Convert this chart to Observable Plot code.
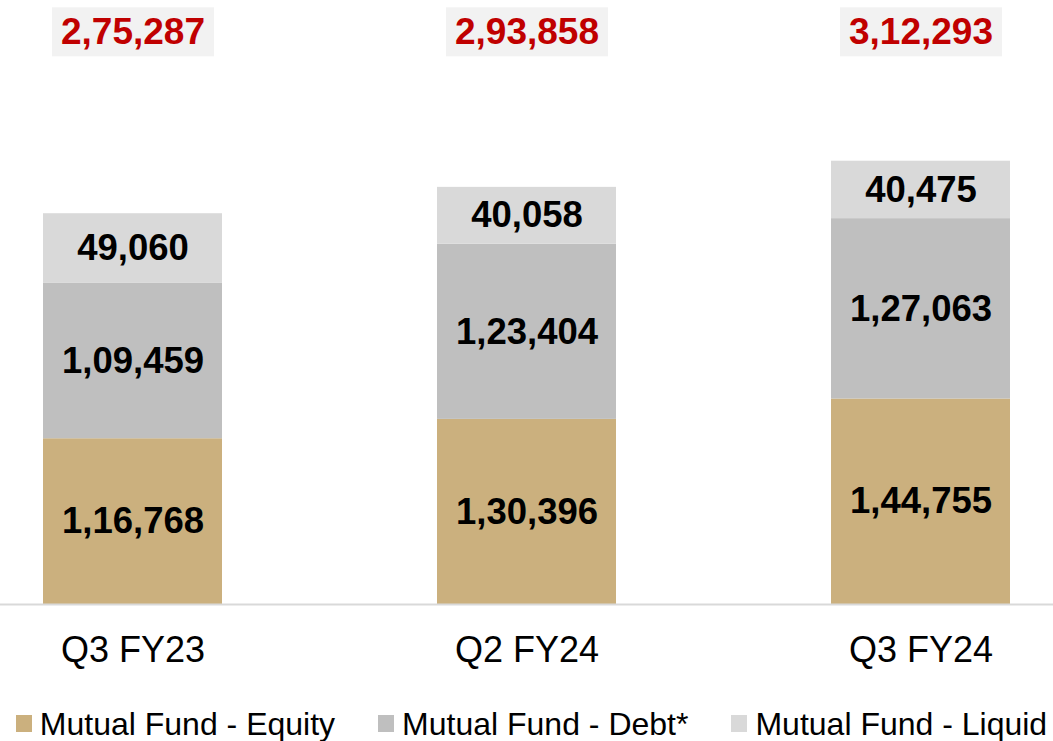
<!DOCTYPE html>
<html>
<head>
<meta charset="utf-8">
<script src="https://cdn.jsdelivr.net/npm/d3@7"></script>
<script src="https://cdn.jsdelivr.net/npm/@observablehq/plot@0.6"></script>
<style>
  html, body { margin: 0; padding: 0; background: #ffffff; }
  body { width: 1053px; height: 741px; overflow: hidden; font-family: "Liberation Sans", Arial, sans-serif; }
  #legend { display: flex; justify-content: center; align-items: center; gap: 43px; height: 41px; padding-top: 3px; padding-left: 10px; font-size: 32px; color: #000; line-height: 40px; white-space: nowrap; }
  .item { display: flex; align-items: center; }
  .sw { width: 16px; height: 17px; margin-right: 8px; }
</style>
</head>
<body>
<div id="chart"></div>
<div id="legend"></div>
<script>
const categories = ["Q3 FY23", "Q2 FY24", "Q3 FY24"];
const seriesNames = ["Mutual Fund - Equity", "Mutual Fund - Debt*", "Mutual Fund - Liquid"];
const equity = [116768, 130396, 144755];
const debt = [109459, 123404, 127063];
const liquid = [49060, 40058, 40475];
const totals = [275287, 293858, 312293];
const colors = ["#cbb07e", "#bfbfbf", "#d9d9d9"];

const fmt = d3.formatLocale({decimal: ".", thousands: ",", grouping: [3, 2], currency: ["", ""]}).format(",d");

const seriesValues = [equity, debt, liquid];
const rows = categories.flatMap((c, i) => seriesNames.map((s, j) => ({category: c, series: s, value: seriesValues[j][i]})));
const totalRows = categories.map((c, i) => ({category: c, total: totals[i]}));

const chart = Plot.plot({
  width: 1053,
  height: 700,
  marginTop: 0,
  marginBottom: 96,
  marginLeft: 0,
  marginRight: 0,
  style: {fontFamily: "'Liberation Sans', Arial, sans-serif", background: "#ffffff", color: "#000"},
  x: {domain: categories, paddingInner: 0.546, paddingOuter: 0.109, label: null},
  y: {domain: [0, 425500], axis: null},
  color: {domain: seriesNames, range: colors},
  marks: [
    Plot.barY(rows, {x: "category", y: "value", fill: "series"}),
    Plot.text(rows, Plot.stackY({x: "category", y: "value", z: "series", text: d => fmt(d.value), fontSize: 36.5, fontWeight: "bold", fill: "#000000"})),
    Plot.ruleY([0], {stroke: "#d9d9d9", strokeWidth: 2}),
    Plot.text(totalRows, {x: "category", frameAnchor: "top", lineAnchor: "middle", dy: 32, text: d => fmt(d.total), fill: "#c00000", fontSize: 37, fontWeight: "bold"}),
    Plot.axisX({tickSize: 0, tickPadding: 32, fontSize: 36, fill: "#000000", label: null})
  ]
});
document.getElementById("chart").appendChild(chart);

// light grey boxes behind the total labels
const svg = chart.tagName.toLowerCase() === "svg" ? chart : chart.querySelector("svg");
svg.querySelectorAll('g[fill="#c00000"] text').forEach(t => {
  const bb = t.getBBox();
  const r = document.createElementNS("http://www.w3.org/2000/svg", "rect");
  r.setAttribute("x", bb.x - 9);
  r.setAttribute("y", bb.y - 4);
  r.setAttribute("width", bb.width + 18);
  r.setAttribute("height", bb.height + 8);
  r.setAttribute("fill", "#f2f2f2");
  if (t.getAttribute("transform")) r.setAttribute("transform", t.getAttribute("transform"));
  t.parentNode.insertBefore(r, t);
});

const legend = document.getElementById("legend");
seriesNames.forEach((s, i) => {
  const item = document.createElement("div");
  item.className = "item";
  const sw = document.createElement("span");
  sw.className = "sw";
  sw.style.background = colors[i];
  const lab = document.createElement("span");
  lab.textContent = s;
  item.appendChild(sw);
  item.appendChild(lab);
  legend.appendChild(item);
});
</script>
</body>
</html>
